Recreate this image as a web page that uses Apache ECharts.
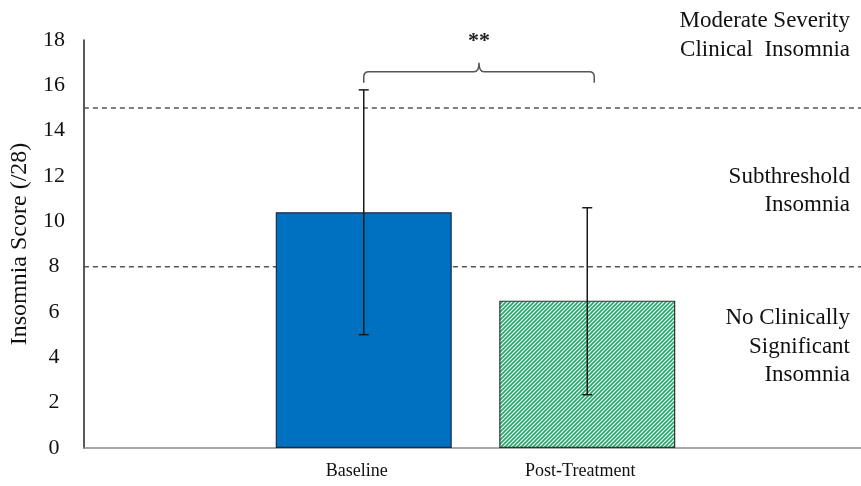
<!DOCTYPE html>
<html>
<head>
<meta charset="utf-8">
<script src="https://cdn.jsdelivr.net/npm/echarts@6/dist/echarts.min.js"></script>
<style>
html,body{margin:0;padding:0;background:#fff;}
#chart{width:861px;height:486px;}
</style>
</head>
<body>
<div id="chart"></div>
<script>
// ---- data ----
var categories = ['Baseline', 'Post-Treatment'];
var means = [10.4, 6.5];
var errLow = [5.0, 2.35];
var errHigh = [15.8, 10.6];
var thresholds = [8, 15];
var yTicks = [0, 2, 4, 6, 8, 10, 12, 14, 16, 18];
var zoneLabels = [
  {lines: ['Moderate Severity', 'Clinical  Insomnia'], y: 19.45},
  {lines: ['Subthreshold', 'Insomnia'], y: 12.6},
  {lines: ['No Clinically', 'Significant', 'Insomnia'], y: 6.35}
];
var sigLabel = '**';

var FONT = '"Liberation Serif", "Times New Roman", serif';

function hatch() {
  var c = document.createElement('canvas');
  c.width = 4; c.height = 4;
  var g = c.getContext('2d');
  g.fillStyle = '#ffffff';
  g.fillRect(0, 0, 4, 4);
  g.strokeStyle = '#1fa86a';
  g.lineWidth = 1.6;
  g.beginPath();
  g.moveTo(-1, 5); g.lineTo(5, -1);
  g.moveTo(-1, 1); g.lineTo(1, -1);
  g.moveTo(3, 5); g.lineTo(5, 3);
  g.stroke();
  return c;
}

var chart = echarts.init(document.getElementById('chart'), null, {renderer: 'canvas'});

var option = {
  animation: false,
  backgroundColor: '#ffffff',
  grid: [
    {left: 83, right: 0, top: 40, bottom: 38},
    {left: 252, width: 447, top: 40, bottom: 38}
  ],
  xAxis: [
    {gridIndex: 0, type: 'value', min: 0, max: 1,
     axisLine: {show: true, lineStyle: {color: '#8c8c8c', width: 1.5}},
     axisTick: {show: false}, axisLabel: {show: false}, splitLine: {show: false}},
    {gridIndex: 1, type: 'category', data: categories,
     axisLine: {show: false}, axisTick: {show: false},
     axisLabel: {color: '#111', fontFamily: FONT, fontSize: 18, margin: 14,
       padding: [0, 14, 0, 0]}}
  ],
  yAxis: [
    {gridIndex: 0, type: 'value', min: 0, max: 18, interval: 2,
     name: 'Insomnia Score (/28)', nameLocation: 'middle', nameGap: 50,
     nameTextStyle: {color: '#111', fontFamily: FONT, fontSize: 24},
     axisLine: {show: true, lineStyle: {color: '#222', width: 1.5}},
     axisTick: {show: false},
     axisLabel: {color: '#111', fontFamily: FONT, fontSize: 22, margin: 30, align: 'center'},
     splitLine: {show: false}},
    {gridIndex: 1, type: 'value', min: 0, max: 18, interval: 2, show: false}
  ],
  series: [
    {
      type: 'custom', xAxisIndex: 0, yAxisIndex: 0, z: 1,
      data: thresholds.map(function (t) { return [t]; }),
      renderItem: function (params, api) {
        var y = api.value(0);
        var a = api.coord([0, y]);
        var b = api.coord([1, y]);
        return {type: 'line', shape: {x1: a[0], y1: a[1], x2: b[0], y2: b[1]},
          style: {stroke: '#555', lineWidth: 1.5, lineDash: [5, 4]}};
      }
    },
    {
      type: 'bar', xAxisIndex: 1, yAxisIndex: 1, barWidth: 176, z: 2,
      data: [
        {value: means[0], itemStyle: {color: '#0070c0', borderColor: '#1b2a48', borderWidth: 1.2}},
        {value: means[1], itemStyle: {color: {image: hatch(), repeat: 'repeat'}, borderColor: '#333', borderWidth: 1.2}}
      ]
    },
    {
      type: 'custom', xAxisIndex: 1, yAxisIndex: 1, z: 5,
      data: categories.map(function (c, i) { return [i, errLow[i], errHigh[i]]; }),
      renderItem: function (params, api) {
        var lo = api.coord([api.value(0), api.value(1)]);
        var hi = api.coord([api.value(0), api.value(2)]);
        var x = lo[0], w = 5;
        var st = {stroke: '#1a1a1a', lineWidth: 1.5};
        return {type: 'group', children: [
          {type: 'line', shape: {x1: x, y1: lo[1], x2: x, y2: hi[1]}, style: st},
          {type: 'line', shape: {x1: x - w, y1: lo[1], x2: x + w, y2: lo[1]}, style: st},
          {type: 'line', shape: {x1: x - w, y1: hi[1], x2: x + w, y2: hi[1]}, style: st}
        ]};
      }
    },
    {
      type: 'custom', xAxisIndex: 1, yAxisIndex: 1, z: 6,
      data: [[0, 1, 16.6]],
      renderItem: function (params, api) {
        var yv = api.value(2);
        var a = api.coord([api.value(0), yv]);
        var b = api.coord([api.value(1), yv]);
        var x1 = a[0], x2 = b[0] + 7, y = a[1];
        var m = (x1 + x2) / 2;
        var dEnd = 11, r = 5, peak = 9;
        var path = 'M' + x1 + ',' + (y + dEnd) +
          ' L' + x1 + ',' + (y + r) +
          ' Q' + x1 + ',' + y + ' ' + (x1 + r) + ',' + y +
          ' L' + (m - r) + ',' + y +
          ' Q' + m + ',' + y + ' ' + m + ',' + (y - peak) +
          ' Q' + m + ',' + y + ' ' + (m + r) + ',' + y +
          ' L' + (x2 - r) + ',' + y +
          ' Q' + x2 + ',' + y + ' ' + x2 + ',' + (y + r) +
          ' L' + x2 + ',' + (y + dEnd);
        return {type: 'group', children: [
          {type: 'path', shape: {pathData: path}, style: {stroke: '#555', lineWidth: 1.5, fill: null}},
          {type: 'text', x: m, y: y - 30, style: {text: sigLabel, font: 'bold 22px ' + FONT, fill: '#222', align: 'center', verticalAlign: 'middle'}}
        ]};
      }
    },
    {
      type: 'custom', xAxisIndex: 0, yAxisIndex: 0, z: 6,
      data: zoneLabels.map(function (z, i) { return [i, z.y]; }),
      renderItem: function (params, api) {
        var z = zoneLabels[api.value(0)];
        var p = api.coord([1, api.value(1)]);
        return {type: 'text', x: p[0] - 11, y: p[1],
          style: {text: z.lines.join('\n'), font: '23px ' + FONT, fill: '#111', align: 'right',
            verticalAlign: 'top', lineHeight: 28.5}};
      }
    }
  ]
};
chart.setOption(option);
</script>
</body>
</html>
